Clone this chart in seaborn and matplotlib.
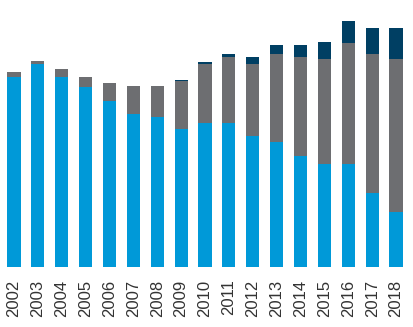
import numpy as np
import pandas as pd
import seaborn as sns
from matplotlib import pyplot as plt

years = [str(y) for y in range(2002, 2019)]
blue = [190, 203, 190, 180, 166, 153, 150, 138, 144, 144, 131, 125, 111, 103, 103, 74, 55]
gray = [5, 3, 8, 10, 18, 28, 31, 48, 59, 66, 72, 88, 99, 105, 121, 139, 153]
navy = [0, 0, 0, 0, 0, 0, 0, 1, 2, 3, 7, 9, 12, 17, 22, 26, 31]

df = pd.DataFrame({'year': years, 'blue': blue, 'gray': gray, 'navy': navy})
df['blue_gray'] = df['blue'] + df['gray']
df['total'] = df['blue_gray'] + df['navy']

sns.set_style("white")
plt.rcParams['font.family'] = ['Liberation Sans', 'DejaVu Sans']

fig = plt.figure(figsize=(4.14, 3.27), dpi=100)
ax = fig.add_axes([2/414, 60/327, 406/414, 267/327])

# stacked look: draw cumulative totals, largest first
layers = [('total', '#003F63'), ('blue_gray', '#6D6E71'), ('blue', '#0099D8')]
for col, c in layers:
    sns.barplot(data=df, x='year', y=col, color=c, width=0.55, ax=ax,
                edgecolor='none', saturation=1)

ax.set_ylim(0, 267)
ax.set_xlim(-0.5, len(years) - 0.5)
ax.set_xlabel('')
ax.set_ylabel('')
ax.set_yticks([])
ax.tick_params(axis='x', length=0, pad=9, labelsize=12, labelrotation=90, colors='#333333')
sns.despine(ax=ax, left=True, bottom=True)

plt.savefig('out.png', dpi=100)
